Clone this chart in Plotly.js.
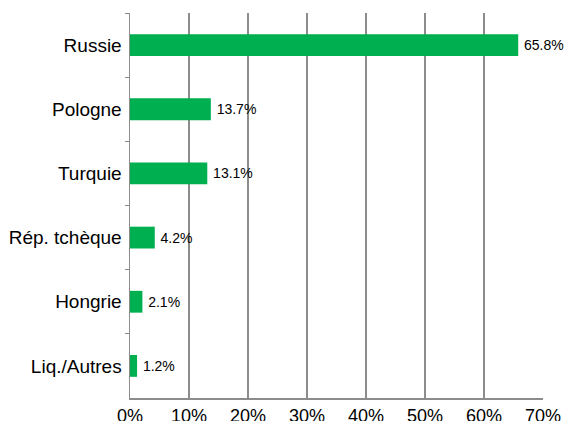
<!DOCTYPE html>
<html><head><meta charset="utf-8">
<script src="https://cdn.plot.ly/plotly-3.0.1.min.js"></script>
<style>html,body{margin:0;padding:0;background:#fff}#chart{width:567px;height:421px}</style>
</head><body><div id="chart"></div>
<script>
var categories = ["Russie", "Pologne", "Turquie", "Rép. tchèque", "Hongrie", "Liq./Autres"];
var values = [65.8, 13.7, 13.1, 4.2, 2.1, 1.2];
var tickVals = [0, 10, 20, 30, 40, 50, 60, 70];
var tickText = ["0%", "10%", "20%", "30%", "40%", "50%", "60%", "70%"];

var trace = {
  type: "bar",
  orientation: "h",
  y: categories,
  x: values,
  marker: {color: "#00B050"},
  text: values.map(function(v){return "\u2009" + v.toFixed(1) + "%";}),
  textposition: "outside",
  textfont: {family: "Liberation Sans, Arial, sans-serif", size: 14, color: "#000"},
  cliponaxis: false,
  hoverinfo: "none"
};

var layout = {
  width: 567, height: 421,
  margin: {l: 129.5, r: 24, t: 13, b: 23},
  paper_bgcolor: "#fff", plot_bgcolor: "#fff",
  showlegend: false,
  bargap: 0.66,
  font: {family: "Liberation Sans, Arial, sans-serif", color: "#000"},
  xaxis: {
    range: [0, 70], tickvals: tickVals, ticktext: tickText,
    showgrid: true, gridcolor: "#8c8c8c", gridwidth: 1.5,
    showline: true, linecolor: "#8c8c8c", linewidth: 1.5,
    zeroline: false, ticks: "", tickfont: {size: 18}, ticklabelstandoff: 1, fixedrange: true
  },
  yaxis: {
    autorange: "reversed",
    showgrid: false, zeroline: false,
    showline: true, linecolor: "#8c8c8c", linewidth: 1.5,
    ticks: "outside", tickson: "boundaries", ticklen: 4, tickcolor: "#8c8c8c", tickwidth: 1,
    tickfont: {size: 19}, ticklabelstandoff: 3, fixedrange: true
  }
};

Plotly.newPlot("chart", [trace], layout, {displayModeBar: false, staticPlot: true});
</script></body></html>
